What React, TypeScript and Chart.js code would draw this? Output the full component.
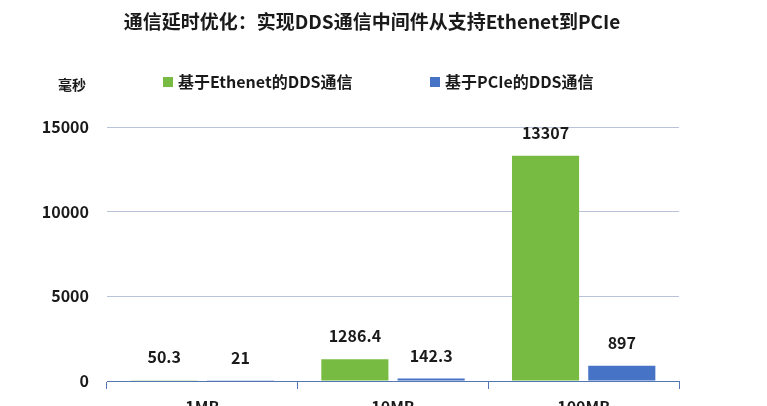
import React, { useEffect, useRef } from "react";
import { Chart, registerables } from "chart.js";

Chart.register(...registerables);

const title = "通信延时优化：实现DDS通信中间件从支持Ethenet到PCIe";
const unitLabel = "毫秒";
const categories = ["1MB", "10MB", "100MB"];
const ethernetLabel = "基于Ethenet的DDS通信";
const pcieLabel = "基于PCIe的DDS通信";
const ethernetValues = [50.3, 1286.4, 13307];
const pcieValues = [21, 142.3, 897];
const yTicks = [0, 5000, 10000, 15000];

const FONT = "'Noto Sans CJK SC', 'Noto Sans', sans-serif";
const GREEN = "#78bb43";
const BLUE = "#4673c6";
const AXIS = "#5376b4";
const GRID = "#b8c2da";
const TEXT = "#1a1a1a";

const W = 767;
const H = 430;
const PLOT_LEFT = 107;
const PLOT_RIGHT = 679;
const PLOT_TOP = 127;
const PLOT_BOTTOM = 381;

const decorPlugin = {
  id: "decor",
  afterDatasetsDraw(chart: any) {
    const ctx = chart.ctx;
    ctx.save();
    ctx.fillStyle = TEXT;
    // title
    ctx.font = `bold 19px ${FONT}`;
    ctx.textAlign = "center";
    ctx.textBaseline = "middle";
    ctx.fillText(title, 372, 22);
    // unit
    ctx.font = `bold 14px ${FONT}`;
    ctx.fillText(unitLabel, 72, 85);
    // legend
    const legendX = [163, 430];
    chart.data.datasets.forEach((ds: any, i: number) => {
      const x = legendX[i];
      ctx.fillStyle = ds.backgroundColor;
      ctx.fillRect(x, 77, 10, 10);
      ctx.fillStyle = TEXT;
      ctx.font = `bold 16px ${FONT}`;
      ctx.textAlign = "left";
      ctx.textBaseline = "middle";
      ctx.fillText(ds.label, x + 15, 82);
    });
    // data labels
    ctx.font = `bold 16px ${FONT}`;
    ctx.textAlign = "center";
    ctx.textBaseline = "middle";
    chart.data.datasets.forEach((ds: any, i: number) => {
      const meta = chart.getDatasetMeta(i);
      meta.data.forEach((bar: any, j: number) => {
        ctx.fillStyle = TEXT;
        ctx.fillText(String(ds.data[j]), bar.x, bar.y - 23);
      });
    });
    ctx.restore();
  },
};

export default function App() {
  const ref = useRef<HTMLCanvasElement>(null);
  useEffect(() => {
    if (!ref.current) return;
    const chart = new Chart(ref.current, {
      type: "bar",
      data: {
        labels: categories,
        datasets: [
          { label: ethernetLabel, data: ethernetValues, backgroundColor: GREEN, borderWidth: 0 },
          { label: pcieLabel, data: pcieValues, backgroundColor: BLUE, borderWidth: 0 },
        ],
      },
      options: {
        responsive: false,
        animation: false,
        devicePixelRatio: 1,
        layout: { padding: { left: 0, right: W - PLOT_RIGHT, top: PLOT_TOP, bottom: 0 } },
        datasets: { bar: { categoryPercentage: 0.8, barPercentage: 0.88 } },
        plugins: {
          legend: { display: false },
          title: { display: false },
          tooltip: { enabled: false },
        },
        scales: {
          x: {
            afterFit(scale: any) {
              scale.height = H - PLOT_BOTTOM;
            },
            grid: {
              display: true,
              drawOnChartArea: false,
              drawTicks: true,
              tickLength: 8,
              offset: true,
              color: AXIS,
            },
            border: { display: true, color: AXIS, width: 1 },
            ticks: {
              color: TEXT,
              font: { family: FONT, size: 16, weight: "bold" },
              padding: 8,
            },
          },
          y: {
            min: 0,
            max: 15000,
            afterFit(scale: any) {
              scale.width = PLOT_LEFT;
            },
            afterBuildTicks(scale: any) {
              scale.ticks = yTicks.map((v) => ({ value: v }));
            },
            grid: { color: GRID, drawTicks: false, lineWidth: 1 },
            border: { display: false },
            ticks: {
              color: TEXT,
              padding: 18,
              font: { family: FONT, size: 16, weight: "bold" },
              callback: (v: any) => String(v),
            },
          },
        },
      },
      plugins: [decorPlugin],
    });
    return () => chart.destroy();
  }, []);
  return (
    <div
      style={{
        position: "fixed",
        left: 0,
        top: 0,
        width: W,
        height: 406,
        overflow: "hidden",
        background: "#fff",
      }}
    >
      <canvas ref={ref} width={W} height={H} style={{ display: "block", width: W, height: H }} />
    </div>
  );
}
